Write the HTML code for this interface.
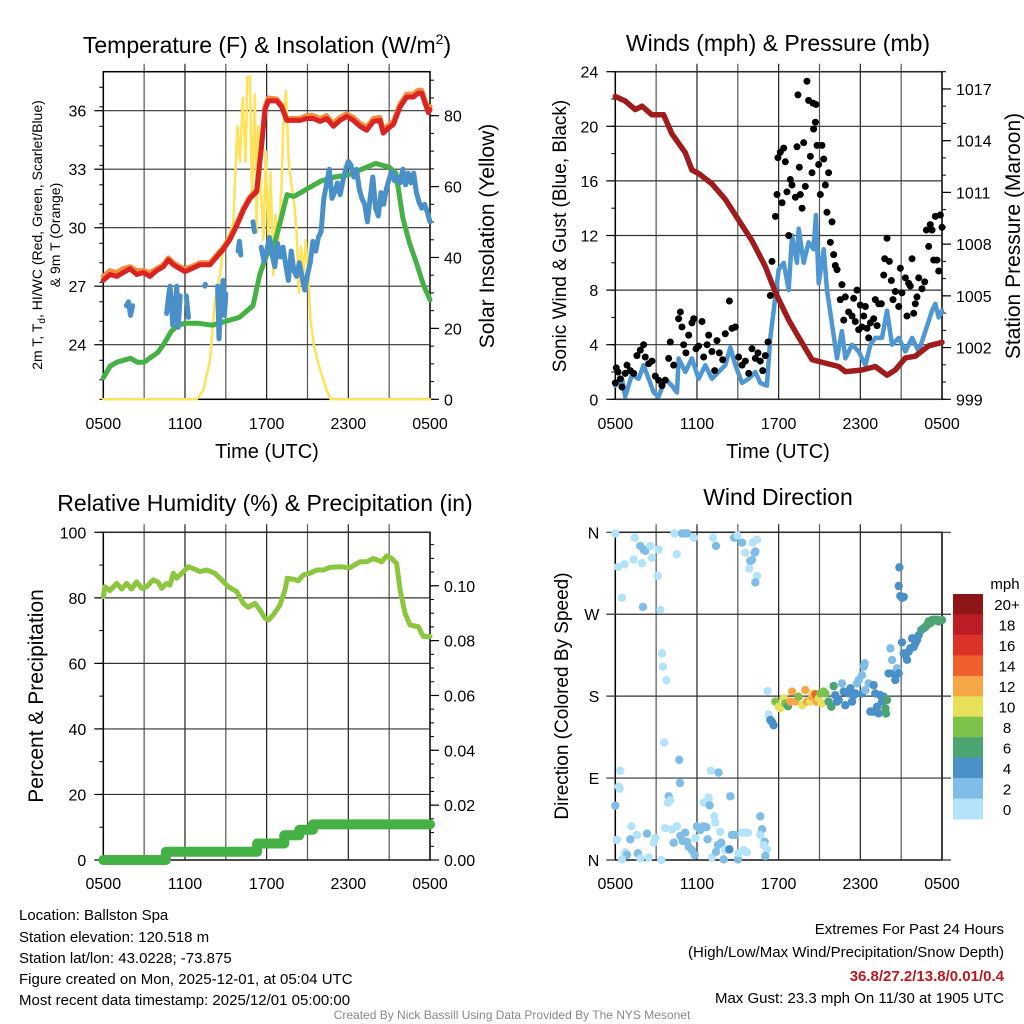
<!DOCTYPE html>
<html><head><meta charset="utf-8"><style>
html,body{margin:0;padding:0;background:#fff;}
svg{display:block;font-family:"Liberation Sans",sans-serif;}
</style></head><body>
<svg id="chart" width="1024" height="1024" viewBox="0 0 1024 1024" xmlns="http://www.w3.org/2000/svg">
<rect x="0" y="0" width="1024" height="1024" fill="#fff"/>
<g id="texts" fill="#000">
<text x="267" y="53" font-size="23" text-anchor="middle">Temperature (F) &amp; Insolation (W/m<tspan font-size="14" dy="-9">2</tspan><tspan dy="9">)</tspan></text>
<text x="778" y="51" font-size="23" text-anchor="middle">Winds (mph) &amp; Pressure (mb)</text>
<text x="265" y="511" font-size="23" text-anchor="middle">Relative Humidity (%) &amp; Precipitation (in)</text>
<text x="778" y="505" font-size="23" text-anchor="middle">Wind Direction</text>
<text x="267" y="458" font-size="20" text-anchor="middle">Time (UTC)</text>
<text x="778" y="458" font-size="20" text-anchor="middle">Time (UTC)</text>
<text transform="translate(42,235) rotate(-90)" font-size="14" text-anchor="middle">2m T, T<tspan font-size="10" dy="3">d</tspan><tspan dy="-3">, HI/WC (Red, Green, Scarlet/Blue)</tspan></text>
<text transform="translate(60,235) rotate(-90)" font-size="14" text-anchor="middle">&amp; 9m T (Orange)</text>
<text transform="translate(494,236) rotate(-90)" font-size="21" text-anchor="middle">Solar Insolation (Yellow)</text>
<text transform="translate(566,236) rotate(-90)" font-size="19" text-anchor="middle">Sonic Wind &amp; Gust (Blue, Black)</text>
<text transform="translate(1020,236) rotate(-90)" font-size="21" text-anchor="middle">Station Pressure (Maroon)</text>
<text transform="translate(43,696) rotate(-90)" font-size="21" text-anchor="middle">Percent &amp; Precipitation</text>
<text transform="translate(568,696) rotate(-90)" font-size="19" text-anchor="middle">Direction (Colored By Speed)</text>
<text x="19" y="920" font-size="15">Location: Ballston Spa</text>
<text x="19" y="942" font-size="15">Station elevation: 120.518 m</text>
<text x="19" y="963" font-size="15">Station lat/lon: 43.0228; -73.875</text>
<text x="19" y="984" font-size="15">Figure created on Mon, 2025-12-01, at 05:04 UTC</text>
<text x="19" y="1005" font-size="15">Most recent data timestamp: 2025/12/01 05:00:00</text>
<text x="1004" y="934" font-size="15" text-anchor="end">Extremes For Past 24 Hours</text>
<text x="1004" y="957" font-size="15" text-anchor="end">(High/Low/Max Wind/Precipitation/Snow Depth)</text>
<text x="1004" y="981" font-size="15" font-weight="bold" fill="#c0171d" text-anchor="end">36.8/27.2/13.8/0.01/0.4</text>
<text x="1004" y="1003" font-size="15" text-anchor="end">Max Gust: 23.3 mph On 11/30 at 1905 UTC</text>
<text x="512" y="1019" font-size="12" fill="#888" text-anchor="middle">Created By Nick Bassill Using Data Provided By The NYS Mesonet</text>
</g>
</svg>
<script>
// ---------- DATA (hours since 0500 UTC) ----------
const xTickLabels = ["0500","1100","1700","2300","0500"];
const tempTicks = [24,27,30,33,36];
const insolTicks = [0,20,40,60,80];
const windTicks = [0,4,8,12,16,20,24];
const presTicks = [999,1002,1005,1008,1011,1014,1017];
const rhTicks = [0,20,40,60,80,100];
const precipTicks = [0.00,0.02,0.04,0.06,0.08,0.10];
const dirTickLabels = ["N","E","S","W","N"];
const dirTickValues = [0,90,180,270,360];
const cbLabels = ["0","2","4","6","8","10","12","14","16","18","20+"];
const cbColors = ["#b3e3f8","#7fbde6","#4a90c8","#4aa571","#7dc24b","#e7e15a","#f6a647","#ee5f2d","#dd3228","#bb1e24","#8f1618"];

const tTimes = [0,0.49,0.98,1.47,1.96,2.45,2.94,3.43,3.92,4.41,4.78,5.14,5.63,6.0,6.49,7.1,7.84,8.33,8.82,9.31,9.8,10.29,10.78,11.27,11.63,11.88,12.12,12.74,13.1,13.47,13.96,14.45,14.94,15.43,15.92,16.41,16.9,17.39,17.88,18.37,18.86,19.35,19.84,20.33,20.57,20.94,21.31,21.8,22.29,22.78,23.14,23.39,23.63,23.88,24];
const tempVals = [27.3,27.6,27.5,27.7,27.9,27.6,27.7,27.5,27.8,28.0,28.35,28.1,27.9,27.75,27.9,28.1,28.1,28.5,28.9,29.4,30.1,30.9,31.5,31.85,34.2,36.05,36.5,36.5,36.2,35.5,35.5,35.5,35.6,35.6,35.45,35.6,35.2,35.5,35.7,35.5,35.2,35.0,35.45,35.5,34.85,35.1,35.3,36.2,36.7,36.7,36.9,36.9,36.4,35.9,36.05];
const temp9Vals = [27.5,27.8,27.7,27.9,28.0,27.8,27.8,27.7,27.9,28.1,28.45,28.2,28.0,27.9,28.0,28.2,28.2,28.6,29.0,29.5,30.2,31.0,31.6,31.95,34.3,36.2,36.65,36.6,36.3,35.6,35.6,35.6,35.75,35.75,35.6,35.75,35.35,35.65,35.85,35.65,35.35,35.15,35.6,35.65,35.0,35.25,35.45,36.35,36.85,36.85,37.05,37.05,36.55,36.05,36.2];
const dTimes = [0,0.5,1,2,2.5,3,4,4.5,5,5.5,6,7,8,9,10,11,11.5,12,12.5,13,13.5,14,15,16,17,18,19,20,21,21.5,22,22.5,23,23.5,24];
const dewVals = [22.3,22.9,23.1,23.3,23.1,23.1,23.6,24.1,24.7,25.0,25.1,25.1,25.0,25.2,25.4,26.0,27.6,28.6,29.0,30.3,31.7,31.6,32.0,32.4,32.6,32.7,33.0,33.3,33.1,32.8,30.5,29.2,28.2,27.1,26.3];
const bTimes = [1.7,1.85,2.0,2.15,null,4.65,4.8,4.9,5.0,5.1,5.3,5.4,5.5,5.65,null,6.1,6.25,null,7.45,7.5,null,8.4,8.5,8.65,8.8,8.9,9.0,null,9.9,10.0,10.1,null,11.0,11.1,null,11.6,11.8,12.0,12.2,12.4,12.6,12.8,13.0,13.2,13.4,13.6,13.8,14.0,14.2,14.4,14.6,14.8,15.0,15.2,15.4,15.6,15.8,16.0,16.2,16.4,16.6,16.8,17.0,17.2,17.4,17.6,17.8,18.0,18.2,18.4,18.6,18.8,19.0,19.2,19.4,19.6,19.8,20.0,20.2,20.4,20.6,20.8,21.0,21.2,21.4,21.6,21.8,22.0,22.2,22.4,22.6,22.8,23.0,23.2,23.4,23.6,23.8,24.0];
const hiwcVals = [26.0,26.2,25.5,26.0,null,25.6,26.5,27.0,26.2,25.0,26.0,27.0,24.9,26.5,null,26.5,25.4,null,27.0,27.1,null,27.0,24.3,26.5,27.3,25.5,26.6,null,28.8,29.3,28.6,null,30.3,29.8,null,29.0,28.3,28.8,29.5,28.6,28.0,29.2,28.5,29.0,28.1,27.3,28.8,27.8,27.5,28.2,27.5,26.8,27.6,28.2,29.3,28.8,29.5,29.8,31.5,32.2,33.0,31.5,31.8,32.3,31.7,32.4,33.0,33.4,33.2,32.6,33.0,32.0,31.5,31.2,30.3,31.5,32.6,31.0,30.6,31.8,31.2,32.0,32.5,32.9,32.4,32.6,32.3,33.0,32.2,32.8,32.3,32.8,31.8,31.3,31.0,31.2,30.8,30.3];
const sTimes = [0,6.86,7.35,7.84,8.2,8.57,8.82,9.31,9.55,9.85,10.04,10.24,10.46,10.58,10.78,10.92,11.14,11.27,11.39,11.56,11.76,11.93,12.12,12.29,12.49,12.64,12.86,13.1,13.23,13.42,13.62,13.84,14.03,14.2,14.38,14.52,14.7,14.87,15.06,15.23,15.48,15.8,16.04,16.41,16.7,24];
const insolVals = [0,0,2.6,11,28,35,43,47,50,77,67,85,67,91,91,58,86,47,77,60,45,70,44,64,35,52,45,60,78,87,67,60,55,47,30,43,35,45,35,22,15,10,7,2.6,0,0];

const wTimes = [0,0.49,0.73,1.22,1.71,2.08,2.45,2.82,3.18,3.67,4.16,4.53,4.65,5.14,5.63,6.12,6.61,7.1,7.59,8.08,8.45,8.82,9.31,9.8,10.29,10.65,11.14,11.39,11.76,12.0,12.37,12.74,12.98,13.35,13.47,13.84,14.2,14.57,14.74,14.94,15.31,15.55,15.92,16.29,16.65,16.9,17.39,17.88,18.37,18.74,19.1,19.59,19.96,20.33,20.82,21.31,21.8,22.29,22.78,23.27,23.51,23.76,24];
const windVals = [1.0,1.5,0.2,1.8,1.5,2.5,1.5,0.5,0.2,1.5,1.0,0.5,3.0,2.0,3.0,1.5,2.5,1.5,2.0,2.5,3.8,2.5,1.2,1.5,2.0,1.2,1.0,4.5,7.5,9.5,10.0,8.0,12.0,10.0,12.5,10.0,11.5,11.0,13.5,8.5,11.0,8.0,5.5,3.0,5.0,3.0,4.0,3.5,2.5,4.0,4.5,4.5,6.5,4.0,4.5,3.5,4.5,3.5,5.0,6.5,7.0,6.0,6.5];
const gTimes = [0,0.07,0.2,0.37,0.49,0.73,0.86,1.1,1.35,1.59,1.84,2.08,2.2,2.45,2.69,2.94,3.18,3.43,3.67,3.92,4.04,4.29,4.65,4.78,4.9,5.02,5.19,5.39,5.63,5.76,5.93,6.12,6.37,6.49,6.74,6.86,7.1,7.3,7.47,7.64,7.89,8.08,8.38,8.57,8.82,9.06,9.31,9.55,9.8,10.04,10.29,10.48,10.65,10.83,11.02,11.22,11.39,11.51,11.76,11.88,11.95,12.12,12.25,12.37,12.49,12.61,12.74,12.86,12.98,13.23,13.35,13.42,13.52,13.59,13.72,13.84,13.96,14.08,14.2,14.33,14.45,14.52,14.57,14.7,14.74,14.82,14.94,15.06,15.18,15.31,15.43,15.55,15.67,15.8,15.92,16.04,16.16,16.29,16.53,16.65,16.78,16.9,17.14,17.39,17.51,17.63,17.76,17.88,18.0,18.12,18.25,18.37,18.49,18.61,18.74,18.98,19.1,19.23,19.35,19.54,19.72,19.79,19.96,20.13,20.28,20.4,20.57,20.82,20.94,21.06,21.31,21.43,21.55,21.67,21.8,21.92,22.04,22.16,22.29,22.53,22.73,22.85,23.02,23.14,23.27,23.39,23.51,23.63,23.76,23.88,24];
const gustVals = [1.2,2.3,2.0,1.5,0.9,1.9,2.5,2.1,1.9,3.2,3.6,4.0,3.1,2.6,2.8,1.7,1.4,1.0,1.4,3.0,4.2,2.5,5.9,6.4,5.3,4.0,3.4,4.7,5.6,5.9,3.7,3.9,5.7,3.1,4.0,4.7,3.5,2.1,4.3,3.4,2.9,4.8,7.2,5.2,5.3,3.1,2.5,2.8,1.9,3.7,3.0,3.4,2.8,2.1,3.2,4.2,7.6,10.1,13.4,15.0,17.7,18.1,14.4,18.4,17.4,15.2,12.0,16.1,15.7,14.8,18.5,22.3,17.0,15.0,14.0,18.8,15.6,23.3,21.9,17.8,16.6,21.7,19.8,20.3,21.6,18.6,17.2,15.0,18.6,17.6,15.7,13.7,16.6,11.5,13.0,10.6,9.8,9.5,7.3,8.4,5.8,7.5,6.4,6.1,7.4,5.7,8.0,5.1,6.9,5.3,6.1,6.8,5.2,4.5,5.6,5.9,7.3,5.4,7.0,7.0,9.1,10.3,11.8,10.1,8.7,7.3,7.9,6.8,9.6,7.8,8.9,6.1,8.5,8.3,10.3,6.3,7.0,7.5,8.9,8.1,8.6,12.4,11.2,12.8,12.4,10.2,13.4,10.2,9.4,13.5,12.6];
const pTimes = [0,0.73,1.47,1.96,2.69,3.55,4.16,5.14,5.63,6.12,7.1,8.08,9.06,10.04,11.02,11.76,12.74,13.47,14.45,15.43,16.41,16.9,18.12,19.1,19.96,20.57,21.31,22.04,23.02,24];
const presVals = [1016.56,1016.3,1015.8,1016.0,1015.5,1015.5,1014.4,1013.3,1012.3,1012.1,1011.5,1010.6,1009.4,1008.2,1006.7,1005.2,1003.6,1002.6,1001.3,1001.1,1000.9,1000.6,1000.7,1000.9,1000.4,1000.7,1001.4,1001.5,1002.1,1002.3];

const rhTimes = [0,0.12,0.49,0.98,1.35,1.71,2.08,2.45,2.82,3.18,3.67,4.04,4.29,4.65,4.9,5.14,5.39,5.76,6.25,6.74,7.1,7.59,8.2,8.69,9.18,9.8,10.29,10.65,11.14,11.51,11.88,12.12,12.49,12.98,13.35,13.52,13.96,14.33,14.7,15.18,15.67,16.16,16.65,17.39,18.12,18.86,19.35,19.84,20.45,20.82,21.19,21.55,21.8,22.16,22.53,23.14,23.51,24];
const rhVals = [80.4,83.4,82.2,84.4,82.7,84.4,82.7,84.9,82.9,83.4,85.5,84.7,82.9,84.4,83.9,87.5,86.0,87.5,89.5,88.7,88.0,88.5,87.5,85.5,83.4,81.9,78.3,77.1,78.3,76.3,73.8,73.2,74.8,77.8,82.4,86.0,85.7,85.2,87.0,87.5,88.5,88.5,89.3,89.5,89.2,91.0,91.0,92.0,91.0,92.8,92.0,90.5,82.4,75.3,71.7,71.2,68.2,68.2];
const prTimes = [0,4.6,4.6,11.3,11.3,13.3,13.3,14.4,14.4,15.4,15.4,24];
const precipVals = [0,0,0.003,0.003,0.006,0.006,0.009,0.009,0.011,0.011,0.013,0.013];

const dirTimes = [0,0.2,0.69,0.49,1.42,1.84,2.08,2.2,1.96,1.35,2.57,2.69,3.18,3.11,2.03,3.31,4.34,4.51,4.9,5.09,5.27,5.76,7.18,7.4,8.73,8.97,9.31,9.55,10.09,10.41,10.29,10.24,9.92,10.04,9.85,10.41,10.29,
3.43,3.5,3.75,3.6,4.7,4.75,0.37,0.25,0.32,7.03,7.59,0,3.92,3.87,4.04,8.45,6.49,6.86,6.93,7.27,7.35,10.65,10.78,10.65,10.97,10.9,11.14,11.02,
0.12,0.73,0.86,0.49,1.1,1.18,1.59,1.66,1.84,2.33,2.45,2.82,2.94,3.38,3.67,4.16,4.29,4.53,4.78,4.95,5.14,5.27,5.39,5.63,5.83,5.88,6.0,6.25,6.49,6.69,6.78,7.1,7.4,7.54,7.79,7.96,8.08,8.38,8.57,8.77,9.01,9.06,9.43,9.67,9.55,9.75,9.31,7.71,
11.19,11.27,11.39,11.51,11.63,11.76,12.0,12.12,12.37,12.49,12.69,12.86,12.98,13.23,13.47,13.72,13.96,14.08,14.33,14.45,14.57,14.7,14.82,14.94,15.06,15.18,15.31,15.43,15.67,15.87,16.04,16.16,16.29,16.41,16.65,16.78,16.9,17.14,17.27,17.39,17.51,17.63,17.76,17.88,18.12,18.25,18.32,18.12,18.37,18.61,18.74,18.98,18.98,19.1,19.23,19.35,19.47,19.59,19.72,19.84,19.89,19.96,20.08,20.21,20.33,20.45,20.57,20.7,20.82,20.87,20.82,20.94,21.06,21.19,21.06,21.19,21.31,21.43,21.55,21.67,21.8,21.92,22.04,22.16,22.29,22.48,22.65,22.78,22.9,23.02,23.14,23.27,23.39,23.51,23.63,23.76,23.88,24];
const dirDegs = [358.8,322,325,288,354,345,341,339.5,326,330,345,332,341,312,278,275,358.8,335.8,358.8,358.8,358.8,354,354,345,354,356.5,348.6,337.6,348.6,352,339,337.6,328.5,329.5,320,312,305,
227,212.4,197.4,129,110,84.6,98,80.6,78.4,98,96,59.7,70,63,65.5,70,63,68.5,60,48,41,48,33.7,27.5,20,16.5,11.7,4.4,
22,8.4,5.5,0.7,22.7,37,27.5,7.3,1.8,29,2.6,19,24,0,35,33.7,19,37,26.4,20.9,30,20,14.6,11,5.5,24,37,33,37,36,22.7,2.9,9,16.5,19,0.7,11,11.7,27.5,27.5,0.7,7.3,11,8.4,30,30,30,31,
185.6,160,153.8,151.6,148,174,168.4,166.6,177.6,172,169,174,185,174,179.4,170,186.7,174,174,179.4,183,182,174,177.6,183,172,185,183,174,168.4,191,181,174,175.8,194,185,170,183,188.6,174,181,183,194,197.7,203,212.4,216,183,186.7,194,163,163,192,183,168.4,161,181,174,179.4,166.6,161,175.8,205,232.5,219.7,205,197.7,210.5,205,321.5,301,290,288,289,239,227,225,220,229,232.5,243.5,234,238,241.7,247,252.7,254.5,256,258,262,260,263.6,264,263,264,262,263,263.6];
const dirSpeeds = [1,1,1,1,1,3,3,3,1,1,1,1,1,1,3,1,1,1,3,3,3,1,1,3,3,1,3,1,1,1,3,3,3,3,1,1,3,
1,1,1,1,3,3,1,1,1,1,3,3,3,1,1,3,1,1,3,1,1,3,3,1,3,1,1,3,
1,1,3,1,3,1,1,3,1,3,1,1,1,1,1,1,3,1,3,3,3,3,3,3,3,1,3,3,3,3,3,1,3,3,3,3,1,5,3,3,3,1,1,1,1,1,1,1,
1,1,5,5,5,9,11,11,11,9,7,13,13,13,9,11,13,13,11,13,11,15,13,11,9,11,9,9,7,7,7,5,5,5,3,5,5,5,5,5,5,5,3,3,3,3,3,5,3,3,5,5,5,5,5,5,5,5,5,7,7,7,5,3,3,5,5,3,5,5,5,5,5,5,5,5,5,5,5,5,5,5,5,5,5,7,5,7,7,7,7,7,7,7,7,7,7,7];

// ---------- DRAWING ----------
const NS = "http://www.w3.org/2000/svg";
const svg = document.getElementById('chart');
function mk(tag, attrs, parent){
  const e = document.createElementNS(NS, tag);
  for (const k in attrs) e.setAttribute(k, attrs[k]);
  (parent || svg).appendChild(e);
  return e;
}
function lin(d0,d1,r0,r1){ return v => r0 + (v-d0)/(d1-d0)*(r1-r0); }
function linePath(xs, ys, sx, sy){
  let d = "", pen = false;
  for (let i=0;i<xs.length;i++){
    if (xs[i]===null || ys[i]===null){ pen=false; continue; }
    d += (pen ? "L" : "M") + sx(xs[i]).toFixed(1) + "," + sy(ys[i]).toFixed(1);
    pen = true;
  }
  return d;
}
const L = {x0:103.3, x1:430}, R = {x0:615.3, x1:942};
const T = {y0:71.7, y1:399.3}, B = {y0:532.3, y1:860};

function frame(name, px, py, labY){
  const g = mk('g', {});
  
  
  const sx = lin(0,24,px.x0,px.x1);
  for (let h=3; h<24; h+=3){
    const ln = mk('line',{x1:sx(h),x2:sx(h),y1:py.y0-8,y2:py.y1,stroke:(h%6===0?'#222':'#555'),'stroke-width':1.2}, g);
    
    
  }
  for (let i=0;i<xTickLabels.length;i++){
    const h = i*6;
    const t = mk('text',{x:sx(h),y:labY,'font-size':16,'text-anchor':'middle'}, g);
    t.textContent = xTickLabels[i];
    
    
  }
  const bx = mk('rect',{x:px.x0,y:py.y0,width:px.x1-px.x0,height:py.y1-py.y0,fill:'none',stroke:'#000','stroke-width':1.5}, g);
  
  
  return {g, sx};
}
function yAxis(g, name, ticks, minorStep, d0, d1, px, py, side, grid, fmt){
  const sy = lin(d0,d1,py.y1,py.y0);
  const xe = side==='left' ? px.x0 : px.x1, dir = side==='left' ? -1 : 1;
  for (let v=d0; v<=d1+1e-9; v+=minorStep){
    const y = sy(v);
    if (y < py.y0-0.5) break;
    const m = mk('line',{x1:xe,x2:xe+dir*4,y1:y,y2:y,stroke:'#000','stroke-width':1}, g);
    
    
  }
  ticks.forEach(v => {
    const y = sy(v);
    if (grid){
      const gl = mk('line',{x1:px.x0,x2:px.x1,y1:y,y2:y,stroke:'#333','stroke-width':1.2}, g);
      
      
    }
    const tk = mk('line',{x1:xe,x2:xe+dir*9,y1:y,y2:y,stroke:'#000','stroke-width':1.2}, g);
    
    
    const t = mk('text',{x:xe+dir*(side==='left'?17:14),y:y+6,'font-size':16,'text-anchor':side==='left'?'end':'start'}, g);
    t.textContent = fmt ? fmt(v) : String(v);
    
    
  });
  return sy;
}

// Panel 1: temperature & insolation
{
  const f = frame('temp-panel', L, T, 429);
  const syT = yAxis(f.g,'temp-y-axis',tempTicks,1,21.2,38.0,L,T,'left',true);
  const syS = yAxis(f.g,'insolation-y-axis',insolTicks,5,0,92.4,L,T,'right',false);
  const g = mk('g',{'stroke-linejoin':'round','stroke-linecap':'round',fill:'none'});
  
  
  const p1 = mk('path',{d:linePath(sTimes,insolVals,f.sx,syS),stroke:'#fde25a','stroke-width':2.5}, g);
  
  
  const p2 = mk('path',{d:linePath(dTimes,dewVals,f.sx,syT),stroke:'#45b144','stroke-width':5}, g);
  
  
  const p3 = mk('path',{d:linePath(bTimes,hiwcVals,f.sx,syT),stroke:'#4a90c8','stroke-width':5}, g);
  
  
  const p4 = mk('path',{d:linePath(tTimes,temp9Vals,f.sx,syT),stroke:'#f68b3a','stroke-width':5}, g);
  
  
  const p5 = mk('path',{d:linePath(tTimes,tempVals,f.sx,syT),stroke:'#d92424','stroke-width':5}, g);
  
  
}
// Panel 2: winds & pressure
{
  const f = frame('wind-panel', R, T, 429);
  const syW = yAxis(f.g,'wind-y-axis',windTicks,2,0,24,R,T,'left',true);
  const syP = yAxis(f.g,'pressure-y-axis',presTicks,1,999,1018,R,T,'right',false);
  const g = mk('g',{'stroke-linejoin':'round','stroke-linecap':'round',fill:'none'});
  
  
  const pw = mk('path',{d:linePath(wTimes,windVals,f.sx,syW),stroke:'#4f97d2','stroke-width':4.5}, g);
  
  
  for (let i=0;i<gTimes.length;i++){
    const c = mk('circle',{cx:f.sx(gTimes[i]),cy:syW(gustVals[i]),r:3.5,fill:'#000'}, g);
    
    
  }
  const pp = mk('path',{d:linePath(pTimes,presVals,f.sx,syP),stroke:'#a01c1c','stroke-width':5.5}, g);
  
  
}
// Panel 3: RH & precip
{
  const f = frame('humidity-panel', L, B, 889);
  const syH = yAxis(f.g,'humidity-y-axis',rhTicks,10,0,100,L,B,'left',true);
  const syPr = yAxis(f.g,'precip-y-axis',precipTicks,0.005,0,0.1195,L,B,'right',false,v=>v.toFixed(2));
  const g = mk('g',{'stroke-linejoin':'round','stroke-linecap':'round',fill:'none'});
  
  
  const ph = mk('path',{d:linePath(rhTimes,rhVals,f.sx,syH),stroke:'#8cc63f','stroke-width':5}, g);
  
  
  const pr = mk('path',{d:linePath(prTimes,precipVals,f.sx,syPr),stroke:'#45b144','stroke-width':10}, g);
  
  
}
// Panel 4: wind direction
{
  const f = frame('direction-panel', R, B, 889);
  const syD = lin(0,360,B.y1,B.y0);
  dirTickValues.forEach((v,i) => {
    const y = syD(v);
    const gl = mk('line',{x1:R.x0-9,x2:R.x1+9,y1:y,y2:y,stroke:'#333','stroke-width':1.2}, f.g);
    
    
    const t = mk('text',{x:R.x0-16,y:y+6,'font-size':16,'text-anchor':'end'}, f.g);
    t.textContent = dirTickLabels[i];
    
    
  });
  const g = mk('g',{});
  
  
  for (let i=0;i<dirTimes.length;i++){
    const bin = Math.min(10, Math.floor(dirSpeeds[i]/2));
    const c = mk('circle',{cx:f.sx(dirTimes[i]),cy:syD(dirDegs[i]),r:4.2,fill:cbColors[bin]}, g);
    
    
  }
  // colorbar
  const cb = mk('g',{});
  
  
  const cbTop = 594, cbH = 225/11;
  const unit = mk('text',{x:1005,y:589,'font-size':15,'text-anchor':'middle'}, cb);
  unit.textContent = 'mph';
  
  
  for (let i=0;i<cbColors.length;i++){
    const j = cbColors.length-1-i;
    const r = mk('rect',{x:953,y:cbTop+i*cbH,width:30,height:cbH+0.5,fill:cbColors[j]}, cb);
    
    
    const t = mk('text',{x:1007,y:cbTop+i*cbH+cbH/2+6,'font-size':15,'text-anchor':'middle'}, cb);
    t.textContent = cbLabels[j];
    
    
  }
}
</script>
</body></html>
